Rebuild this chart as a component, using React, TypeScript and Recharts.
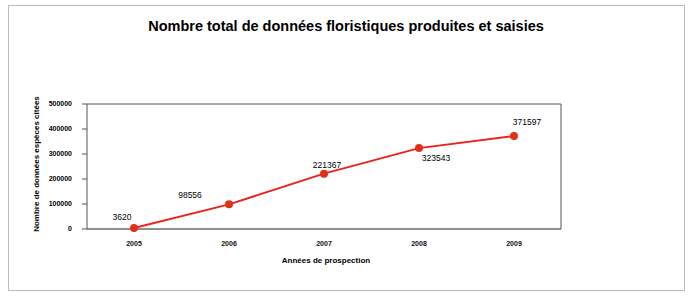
import { LineChart, Line, XAxis, YAxis, CartesianGrid, LabelList } from "recharts";

const years = ["2005", "2006", "2007", "2008", "2009"];
const totals = [3620, 98556, 221367, 323543, 371597];
const yTicks = [0, 100000, 200000, 300000, 400000, 500000];

const data = years.map((year, i) => ({ year, total: totals[i] }));

const FONT = '"Liberation Sans", Arial, sans-serif';

// label offsets relative to each point (dx, dy)
const labelOffsets = [
  [-12, -11],
  [-39, -9],
  [3, -9],
  [17, 10],
  [13, -14],
];

function PointLabel(props: any) {
  const { x, y, value, index } = props;
  const [dx, dy] = labelOffsets[index] || [0, -10];
  return (
    <text
      x={x + dx}
      y={y + dy}
      textAnchor="middle"
      dominantBaseline="central"
      fontSize={8.5}
      fontFamily={FONT}
      fill="#000"
    >
      {value}
    </text>
  );
}

export default function App() {
  return (
    <div style={{ position: "absolute", left: 0, top: 0, width: 692, height: 296, background: "#fff" }}>
      <div
        style={{
          position: "absolute",
          left: 8,
          top: 5,
          width: 677,
          height: 286,
          border: "1px solid #bbb",
          boxSizing: "border-box",
        }}
      />
      <div
        style={{
          position: "absolute",
          left: 0,
          top: 18,
          width: 692,
          textAlign: "center",
          fontFamily: FONT,
          fontWeight: "bold",
          fontSize: 14.5,
          color: "#000",
        }}
      >
        Nombre total de données floristiques produites et saisies
      </div>
      <div
        style={{
          position: "absolute",
          left: 36,
          top: 164,
          transform: "translate(-50%, -50%) rotate(-90deg)",
          whiteSpace: "nowrap",
          fontFamily: FONT,
          fontWeight: "bold",
          fontSize: 8,
          color: "#000",
        }}
      >
        Nombre de données espèces citées
      </div>
      <div
        style={{
          position: "absolute",
          left: 326,
          top: 260,
          transform: "translate(-50%, -50%)",
          whiteSpace: "nowrap",
          fontFamily: FONT,
          fontWeight: "bold",
          fontSize: 8,
          color: "#000",
        }}
      >
        Années de prospection
      </div>
      <div style={{ position: "absolute", left: 0, top: 0 }}>
        <LineChart width={692} height={296} data={data} margin={{ top: 104, right: 130, bottom: 37, left: 40 }}>
          <CartesianGrid vertical={false} stroke="#555" strokeWidth={1} />
          <XAxis
            dataKey="year"
            height={30}
            padding={{ left: 47, right: 47 }}
            tickLine={false}
            axisLine={{ stroke: "#777" }}
            tick={{ fontSize: 7, fontFamily: FONT, fontWeight: "bold", fill: "#111", stroke: "none" }}
            tickMargin={6}
          />
          <YAxis
            yAxisId="left"
            width={47}
            domain={[0, 500000]}
            ticks={yTicks}
            interval={0}
            axisLine={{ stroke: "#555" }}
            tickLine={{ stroke: "#555" }}
            tickSize={5}
            tickMargin={10}
            tick={{ fontSize: 7, fontFamily: FONT, fontWeight: "bold", fill: "#000", stroke: "none" }}
          />
          <YAxis
            yAxisId="right"
            orientation="right"
            width={1}
            domain={[0, 500000]}
            tick={false}
            tickLine={false}
            axisLine={{ stroke: "#555" }}
          />
          <Line
            yAxisId="left"
            type="linear"
            dataKey="total"
            stroke="#e8241c"
            strokeWidth={2}
            dot={{ r: 3, fill: "#e03018", stroke: "#e03018" }}
            isAnimationActive={false}
          >
            <LabelList dataKey="total" content={PointLabel} />
          </Line>
        </LineChart>
      </div>
    </div>
  );
}
